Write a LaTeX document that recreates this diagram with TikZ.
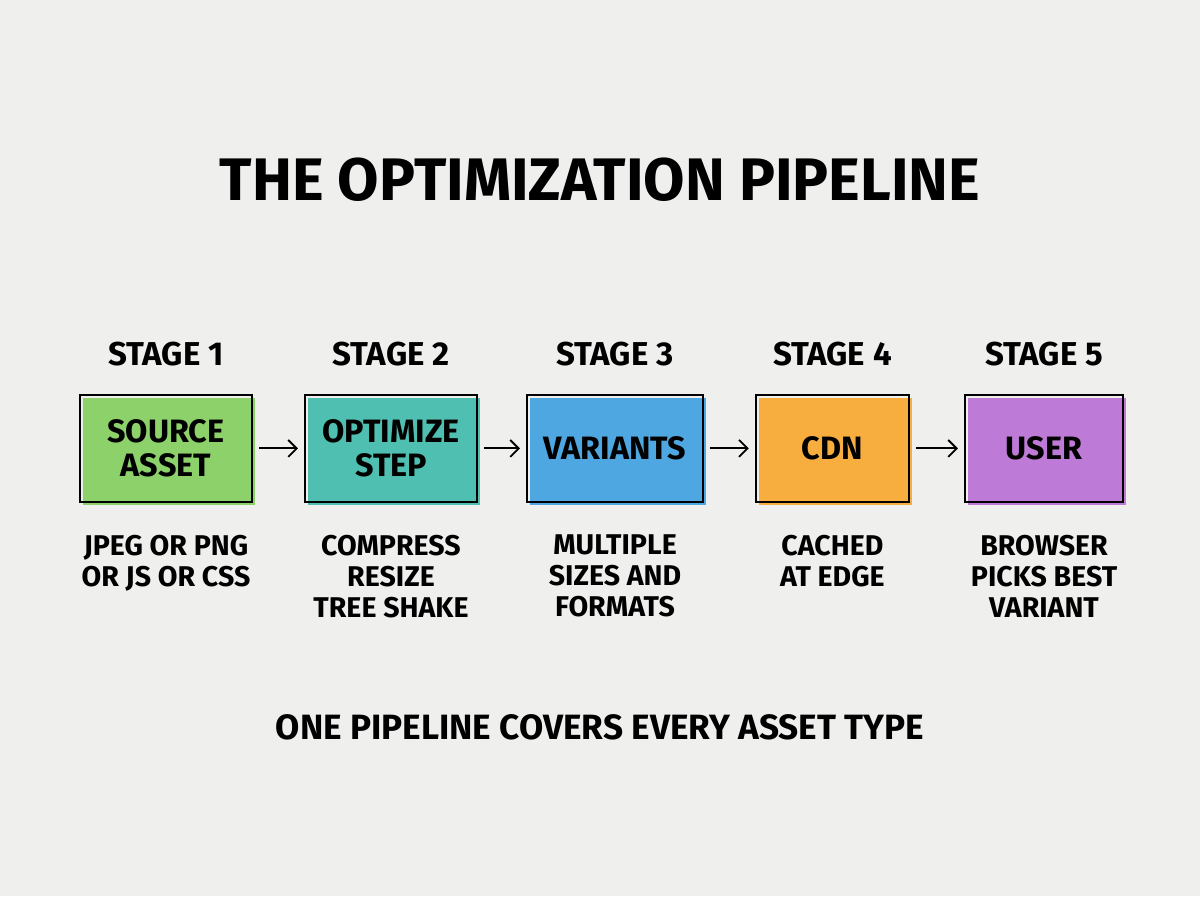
\documentclass[tikz,border=0pt]{standalone}
\usepackage{fontspec}
\setmainfont{Fira Sans}[UprightFont=* Bold]
\usepackage{tikz}
\usetikzlibrary{calc, arrows.meta}
\usepackage{xcolor}

\definecolor{bgcol}{HTML}{EFEFEE}
\definecolor{srccol}{HTML}{8CD169}
\definecolor{optcol}{HTML}{4FBFB1}
\definecolor{varcol}{HTML}{4EA7E0}
\definecolor{cdncol}{HTML}{F8AE3F}
\definecolor{usrcol}{HTML}{BE7AD7}

\begin{document}
\begin{tikzpicture}[
    stagebox/.style={draw=black, line width=1.5pt, minimum height=2.675cm,
      inner sep=0pt, align=center, font=\fontsize{23}{24}\selectfont,
      preaction={fill=#1, rounded corners=4pt,
        transform canvas={shift={(2.2pt,-2.2pt)}}}},
    stagelabel/.style={font=\fontsize{23.5}{24}\selectfont},
    note/.style={align=center, font=\fontsize{20.3}{22}\selectfont},
    flow/.style={-{Straight Barb[length=6pt, width=12pt]}, line width=1.3pt}
  ]

  \fill[bgcol] (0, 0) rectangle (30, 22.4);
  \useasboundingbox (0, 0) rectangle (30, 22.4);

  \node[font=\fontsize{42.7}{44}\selectfont] (title) at (15, 17.9) {THE OPTIMIZATION PIPELINE};

  \node[stagelabel] (l1) at (4.15, 13.55) {STAGE 1};
  \node[stagelabel] (l2) at (9.775, 13.55) {STAGE 2};
  \node[stagelabel] (l3) at (15.375, 13.55) {STAGE 3};
  \node[stagelabel] (l4) at (20.81, 13.55) {STAGE 4};
  \node[stagelabel] (l5) at (26.1, 13.55) {STAGE 5};

  \node[stagebox=srccol, minimum width=4.3cm] (src) at (4.15, 11.19) {SOURCE\\ASSET};
  \node[stagebox=optcol, minimum width=4.3cm] (opt) at (9.775, 11.19) {OPTIMIZE\\STEP};
  \node[stagebox=varcol, minimum width=4.4cm] (var) at (15.375, 11.19) {VARIANTS};
  \node[stagebox=cdncol, minimum width=3.83cm] (cdn) at (20.81, 11.19) {CDN};
  \node[stagebox=usrcol, minimum width=3.95cm] (usr) at (26.1, 11.19) {USER};

  \draw[flow] ($(src.east)+(0.15, 0)$) -- ($(opt.west)+(-0.15, 0)$);
  \draw[flow] ($(opt.east)+(0.15, 0)$) -- ($(var.west)+(-0.15, 0)$);
  \draw[flow] ($(var.east)+(0.15, 0)$) -- ($(cdn.west)+(-0.15, 0)$);
  \draw[flow] ($(cdn.east)+(0.15, 0)$) -- ($(usr.west)+(-0.15, 0)$);

  \node[note, anchor=north] (n1) at (4.15, 9.15) {JPEG OR PNG\\OR JS OR CSS};
  \node[note, anchor=north] (n2) at (9.775, 9.15) {COMPRESS\\RESIZE\\TREE SHAKE};
  \node[note, anchor=north] (n3) at (15.375, 9.15) {MULTIPLE\\SIZES AND\\FORMATS};
  \node[note, anchor=north] (n4) at (20.81, 9.15) {CACHED\\AT EDGE};
  \node[note, anchor=north] (n5) at (26.1, 9.15) {BROWSER\\PICKS BEST\\VARIANT};

  \node[font=\fontsize{25}{26}\selectfont] (foot) at (15, 4.225) {ONE PIPELINE COVERS EVERY ASSET TYPE};
\end{tikzpicture}
\end{document}
